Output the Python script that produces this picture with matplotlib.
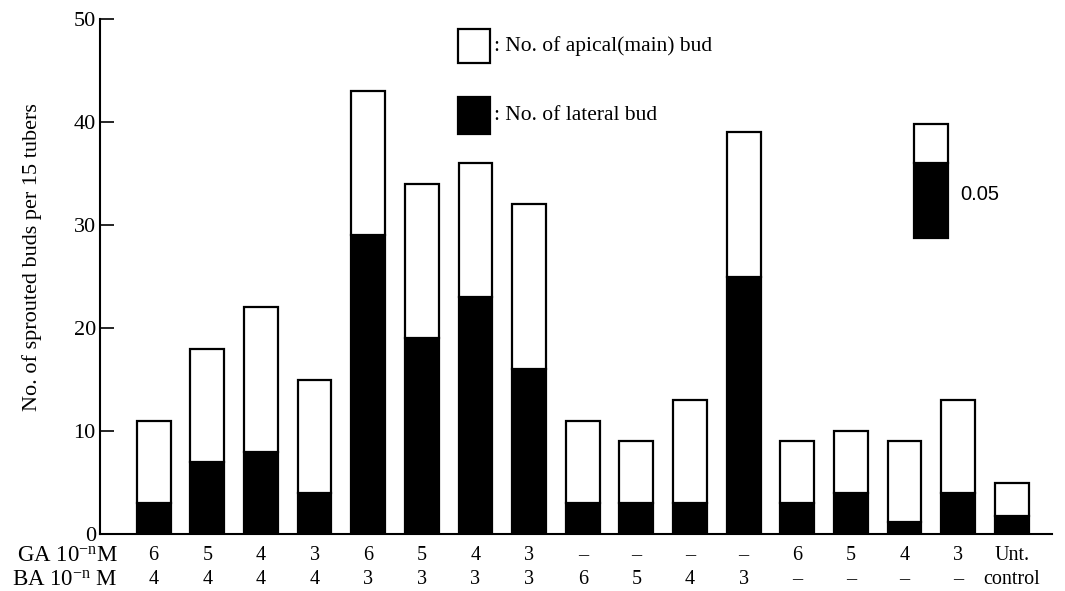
import matplotlib
matplotlib.use("Agg")
import matplotlib.pyplot as plt
import matplotlib.transforms as mtransforms
from matplotlib.patches import Rectangle
import numpy as np

plt.rcParams['font.family'] = ['Liberation Serif', 'DejaVu Serif']
plt.rcParams['mathtext.fontset'] = 'custom'
plt.rcParams['mathtext.rm'] = 'Liberation Serif'
plt.rcParams['mathtext.it'] = 'Liberation Serif:italic'

# ---- data ----
total_buds   = [11, 18, 22, 15, 43, 34, 36, 32, 11, 9, 13, 39, 9, 10, 9, 13, 5]
lateral_buds = [3, 7, 8, 4, 29, 19, 23, 16, 3, 3, 3, 25, 3, 4, 1.2, 4, 1.7]
ga_labels = ['6', '5', '4', '3', '6', '5', '4', '3', '–', '–', '–', '–', '6', '5', '4', '3', 'Unt.']
ba_labels = ['4', '4', '4', '4', '3', '3', '3', '3', '6', '5', '4', '3', '–', '–', '–', '–', 'control']
ga_row_label = r'GA 10$^{-\mathrm{n}}$M'
ba_row_label = r'BA 10$^{-\mathrm{n}}$ M'
lsd_bottom, lsd_mid, lsd_top = 28.7, 36.0, 39.8
lsd_label = '0.05'
legend_apical = ': No. of apical(main) bud'
legend_lateral = ': No. of lateral bud'
ylabel = 'No. of sprouted buds per 15 tubers'

apical_buds = [t - l for t, l in zip(total_buds, lateral_buds)]

W, H = 1065, 591
fig = plt.figure(figsize=(W / 100, H / 100), dpi=100)

def fx(px):
    return px / W

def fy(py):
    return 1 - py / H

ax_left, ax_right, ax_top, ax_bot = 100, 1052, 19, 534
ax = fig.add_axes([fx(ax_left), fy(ax_bot), fx(ax_right - ax_left), (ax_bot - ax_top) / H])

x = np.arange(len(total_buds))
bw = 0.63
lw = 1.6
ax.bar(x, lateral_buds, width=bw, color='black', edgecolor='black', linewidth=lw)
ax.bar(x, apical_buds, width=bw, bottom=lateral_buds, facecolor='white',
       edgecolor='black', linewidth=lw)

# LSD bar
lsd_x = 14.49
ax.bar([lsd_x], [lsd_mid - lsd_bottom], bottom=[lsd_bottom], width=bw,
       color='black', edgecolor='black', linewidth=lw)
ax.bar([lsd_x], [lsd_top - lsd_mid], bottom=[lsd_mid], width=bw,
       facecolor='white', edgecolor='black', linewidth=lw)
ax.text(lsd_x + 0.55, (lsd_bottom + lsd_mid) / 2 + 0.6, lsd_label,
        family='Liberation Sans', fontsize=14.5, ha='left', va='center')

ax.set_xlim(-1.0, 16.75)
ax.set_ylim(0, 50)
ax.set_yticks([0, 10, 20, 30, 40, 50])
ax.tick_params(axis='y', direction='in', length=10, width=1.2, labelsize=16, pad=3)
ax.set_xticks([])
for s in ['top', 'right']:
    ax.spines[s].set_visible(False)
ax.spines['left'].set_linewidth(1.5)
ax.spines['bottom'].set_linewidth(1.5)

# bottom labels
trans = mtransforms.blended_transform_factory(ax.transData, fig.transFigure)
for xi, g, b in zip(x, ga_labels, ba_labels):
    ax.text(xi, fy(556), g, transform=trans, ha='center', va='center', fontsize=14.5)
    ax.text(xi, fy(580), b, transform=trans, ha='center', va='center', fontsize=14.5)
fig.text(fx(118), fy(556), ga_row_label, ha='right', va='center', fontsize=16.5)
fig.text(fx(118), fy(580), ba_row_label, ha='right', va='center', fontsize=16.5)

# y label
fig.text(fx(32), fy(257), ylabel, rotation=90, ha='center', va='center', fontsize=16)

# legend
fig.patches.append(Rectangle((fx(458), fy(63)), fx(32), (63 - 29) / H, transform=fig.transFigure,
                             facecolor='white', edgecolor='black', linewidth=1.6))
fig.patches.append(Rectangle((fx(458), fy(134)), fx(32), (134 - 97) / H, transform=fig.transFigure,
                             facecolor='black', edgecolor='black', linewidth=1.6))
fig.text(fx(494), fy(46), legend_apical, ha='left', va='center', fontsize=15.5)
fig.text(fx(494), fy(115), legend_lateral, ha='left', va='center', fontsize=15.5)

fig.savefig('out.png', dpi=100)
